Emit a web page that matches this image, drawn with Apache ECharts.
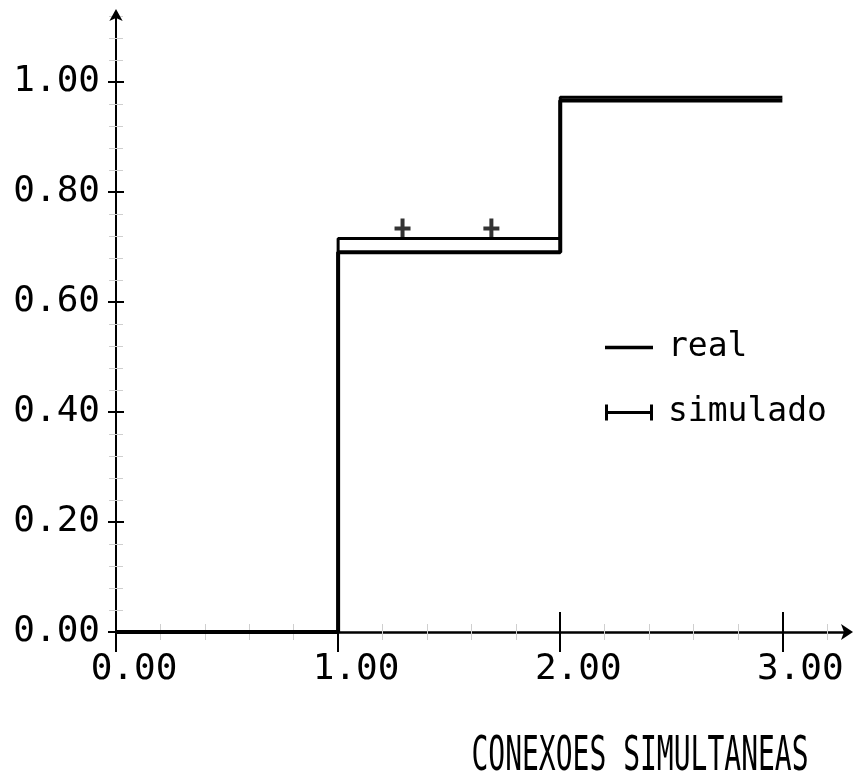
<!DOCTYPE html>
<html>
<head>
<meta charset="utf-8">
<script src="https://cdn.jsdelivr.net/npm/echarts@6/dist/echarts.min.js"></script>
<style>html,body{margin:0;padding:0;background:#fff}#chart{width:854px;height:784px}</style>
</head>
<body>
<div id="chart"></div>
<script>
// ---- data ----
const stepX = [0, 1, 2, 3];
const realY = [0, 0.69, 0.966, 0.966];
const simY = [0, 0.715, 0.972, 0.972];
const crossX = [1.29, 1.69];
const crossY = [0.715, 0.715];
const xTickValues = [0, 1, 2, 3];
const xTickLabels = ['0.00', '1.00', '2.00', '3.00'];
const yTickValues = [0, 0.2, 0.4, 0.6, 0.8, 1.0];
const yTickLabels = ['0.00', '0.20', '0.40', '0.60', '0.80', '1.00'];
const xTitle = 'CONEXOES SIMULTANEAS';

const FONT = 'DejaVu Sans Mono';
const realData = stepX.map((x, i) => [x, realY[i]]);
const simData = stepX.map((x, i) => [x, simY[i]]);
const crossData = crossX.map((x, i) => [x, crossY[i]]);

function xLab(v) { const i = xTickValues.findIndex(t => Math.abs(t - v) < 1e-6); return i >= 0 ? xTickLabels[i] : ''; }
function yLab(v) { const i = yTickValues.findIndex(t => Math.abs(t - v) < 1e-6); return i >= 0 ? yTickLabels[i] : ''; }

const chart = echarts.init(document.getElementById('chart'), null, { renderer: 'canvas' });
const xBase = { type: 'value', min: 0, max: 3.3, interval: 1, position: 'bottom', splitLine: { show: false } };
const yBase = { type: 'value', min: 0, max: 1.125, interval: 0.2, position: 'left', splitLine: { show: false } };

chart.setOption({
  backgroundColor: '#ffffff',
  animation: false,
  grid: { left: 116, right: 5, top: 13, bottom: 152, containLabel: false },
  xAxis: [
    Object.assign({}, xBase, {
      axisLine: { show: true, onZero: true, lineStyle: { color: '#000', width: 2.5 }, symbol: ['none', 'arrow'], symbolSize: [12, 12], symbolOffset: [0, 4] },
      axisTick: { show: true, inside: false, length: 20, customValues: xTickValues, lineStyle: { color: '#000', width: 2 } },
      minorTick: { show: true, splitNumber: 5, length: 8, lineStyle: { color: '#cfcfcf', width: 1 } },
      axisLabel: { show: true, customValues: xTickValues, formatter: xLab, fontFamily: FONT, fontSize: 36, color: '#000', margin: 20, padding: [0, 0, 0, 36] }
    }),
    Object.assign({}, xBase, {
      axisLine: { show: false },
      axisTick: { show: true, inside: true, length: 20, customValues: xTickValues, lineStyle: { color: '#000', width: 2 } },
      minorTick: { show: true, splitNumber: 5, length: 8, lineStyle: { color: '#cfcfcf', width: 1 } },
      axisLabel: { show: false }
    })
  ],
  yAxis: [
    Object.assign({}, yBase, {
      axisLine: { show: true, onZero: false, lineStyle: { color: '#000', width: 2 }, symbol: ['none', 'arrow'], symbolSize: [10, 12], symbolOffset: [0, 4] },
      axisTick: { show: true, inside: false, length: 8, customValues: yTickValues, lineStyle: { color: '#000', width: 2 } },
      minorTick: { show: true, splitNumber: 5, length: 7, lineStyle: { color: '#cfcfcf', width: 1 } },
      axisLabel: { show: true, customValues: yTickValues, formatter: yLab, fontFamily: FONT, fontSize: 36, color: '#000', margin: 16 }
    }),
    Object.assign({}, yBase, {
      axisLine: { show: false },
      axisTick: { show: true, inside: true, length: 8, customValues: yTickValues, lineStyle: { color: '#000', width: 2 } },
      minorTick: { show: true, splitNumber: 5, length: 7, lineStyle: { color: '#cfcfcf', width: 1 } },
      axisLabel: { show: false }
    })
  ],
  legend: {
    orient: 'vertical', left: 600, top: 326, itemWidth: 48, itemHeight: 20, itemGap: 32,
    textStyle: { fontFamily: FONT, fontSize: 33, color: '#000', padding: [0, 0, 0, 10] },
    data: [
      { name: 'real', icon: 'path://M0,0h48v3.5h-48z' },
      { name: 'simulado', icon: 'path://M0,0h3v16h-3z M0,6.5h48v3h-48z M45,0h3v16h-3z' }
    ]
  },
  series: [
    {
      name: 'real', type: 'line', step: 'end', data: realData, showSymbol: false, symbol: 'none',
      color: '#000', lineStyle: { color: '#000', width: 4 }, z: 3
    },
    {
      name: 'simulado', type: 'line', step: 'end', data: simData, showSymbol: false, symbol: 'none',
      color: '#000', lineStyle: { color: '#000', width: 3 }, z: 3
    },
    {
      name: 'simulado', type: 'scatter', data: crossData, color: '#000',
      symbol: 'path://M6,0h4v20h-4z M0,8h16v4h-16z', symbolSize: [16, 20], symbolOffset: [0, -10],
      itemStyle: { color: '#000' }, z: 4
    }
  ],
  graphic: [
    {
      type: 'text', x: 640, y: 758, scaleY: 1.7,
      style: { text: xTitle, font: '28px "DejaVu Sans Mono"', fill: '#000', align: 'center', verticalAlign: 'middle' }
    }
  ]
});
</script>
</body>
</html>
